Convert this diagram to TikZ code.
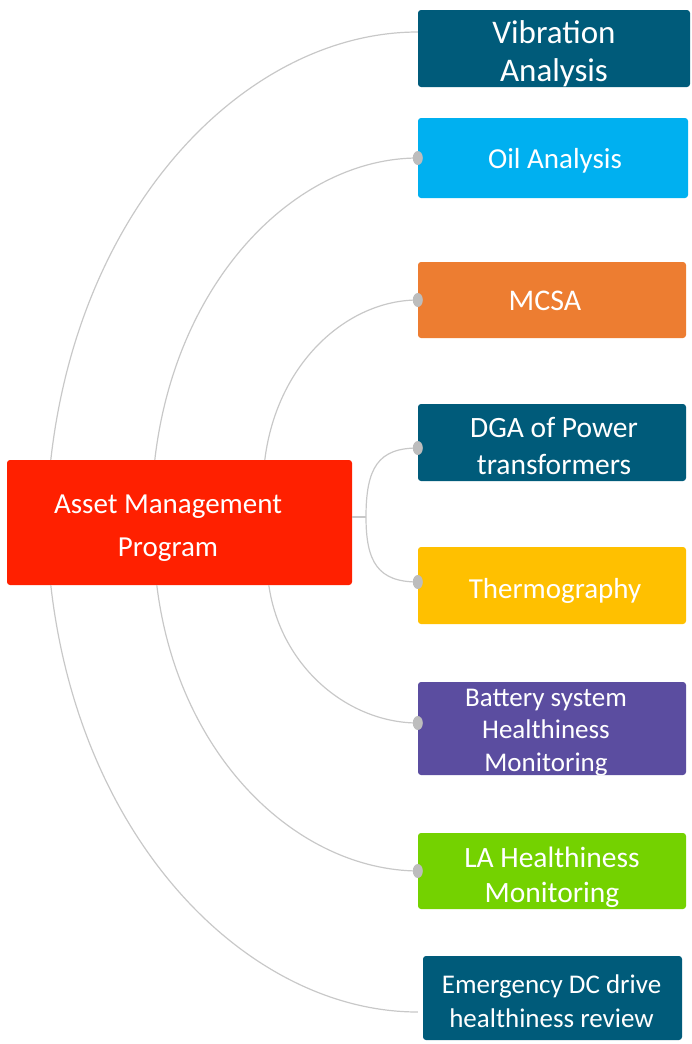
\documentclass[tikz,border=0pt]{standalone}
\usepackage{fontspec}
\setmainfont{Carlito}
\definecolor{tealb}{HTML}{005B7A}
\definecolor{oilb}{HTML}{00B0F0}
\definecolor{orangeb}{HTML}{ED7D31}
\definecolor{yellowb}{HTML}{FFC000}
\definecolor{purpleb}{HTML}{5B4DA0}
\definecolor{greenb}{HTML}{74D200}
\definecolor{redb}{HTML}{FF2000}
\definecolor{linkc}{HTML}{C8C8C8}
\definecolor{dotc}{HTML}{BDBDBD}
\tikzset{
  box/.style={rectangle, rounded corners=3pt, inner sep=0pt},
  lbl/.style={text=white, align=center, inner sep=0pt},
  link/.style={draw=linkc, line width=1.2pt},
  dotmark/.style={fill=dotc, draw=none}
}
\begin{document}
\begin{tikzpicture}[x=1pt,y=-1pt]
\useasboundingbox (0,0) rectangle (692,1044);
% centre
\node[box, fill=redb, minimum width=345pt, minimum height=125pt] (C) at (179.5,522.5) {};
\node[lbl, font=\fontsize{29}{43}\selectfont] (Ct) at (168,528) {Asset Management\\Program};
% branch boxes
\node[box, fill=tealb, minimum width=272pt, minimum height=77pt] (V) at (554,48.5) {};
\node[box, fill=oilb, minimum width=270pt, minimum height=80pt] (O) at (553,158) {};
\node[box, fill=orangeb, minimum width=268pt, minimum height=76pt] (M) at (552,300) {};
\node[box, fill=tealb, minimum width=268pt, minimum height=77pt] (D) at (552,442.5) {};
\node[box, fill=yellowb, minimum width=268pt, minimum height=77pt] (T) at (552,585.5) {};
\node[box, fill=purpleb, minimum width=268pt, minimum height=93pt] (B) at (552,728.5) {};
\node[box, fill=greenb, minimum width=268pt, minimum height=76pt] (L) at (552,871) {};
\node[box, fill=tealb, minimum width=259pt, minimum height=84pt] (E) at (552.5,998) {};
% branch texts
\node[lbl, font=\fontsize{33}{38}\selectfont] (Vt) at (554,53.5) {Vibration\\Analysis};
\node[lbl, font=\fontsize{29}{35}\selectfont] (Ot) at (555,161) {Oil Analysis};
\node[lbl, font=\fontsize{30}{35}\selectfont] (Mt) at (545,301) {MCSA};
\node[lbl, font=\fontsize{29.5}{37}\selectfont] (Dt) at (554,446) {DGA of Power\\transformers};
\node[lbl, font=\fontsize{29}{35}\selectfont] (Tt) at (555,591) {Thermography};
\node[lbl, font=\fontsize{27}{32.5}\selectfont] (Bt) at (546,732.5) {Battery system\\Healthiness\\Monitoring};
\node[lbl, font=\fontsize{29.5}{35}\selectfont] (Lt) at (552,877) {LA Healthiness\\Monitoring};
\node[lbl, font=\fontsize{27}{34}\selectfont] (Et) at (551.5,1001) {Emergency DC drive\\healthiness review};
% connectors
\draw[link] ([xshift=44pt]C.north west) .. controls (80,200) and (250,32) .. ([yshift=16.5pt]V.west);
\draw[link] ([xshift=148pt]C.north west) .. controls (176,277) and (298,158) .. (O.west);
\draw[link] ([xshift=258pt]C.north west) .. controls (277,362) and (348,300) .. (M.west);
\coordinate (J) at (366,517);
\draw[link] ([yshift=5.5pt]C.east) -- (J);
\draw[link] (J) .. controls (366,468) and (378,448) .. ([yshift=-5.5pt]D.west);
\draw[link] (J) .. controls (366,562) and (378,582) .. ([yshift=3.5pt]T.west);
\draw[link] ([xshift=262pt]C.south west) .. controls (281,669) and (350,723) .. ([yshift=5.5pt]B.west);
\draw[link] ([xshift=150pt]C.south west) .. controls (178,758) and (298,870) .. (L.west);
\draw[link] ([xshift=44pt]C.south west) .. controls (80,844) and (250,1012) .. ([yshift=-14pt,xshift=-5pt]E.west);
% dots
\fill[dotmark] (O.west) ellipse [x radius=5pt, y radius=7pt];
\fill[dotmark] (M.west) ellipse [x radius=5pt, y radius=7pt];
\fill[dotmark] ([yshift=-5.5pt]D.west) ellipse [x radius=5pt, y radius=7pt];
\fill[dotmark] ([yshift=3.5pt]T.west) ellipse [x radius=5pt, y radius=7pt];
\fill[dotmark] ([yshift=5.5pt]B.west) ellipse [x radius=5pt, y radius=7pt];
\fill[dotmark] (L.west) ellipse [x radius=5pt, y radius=7pt];
\end{tikzpicture}
\end{document}
